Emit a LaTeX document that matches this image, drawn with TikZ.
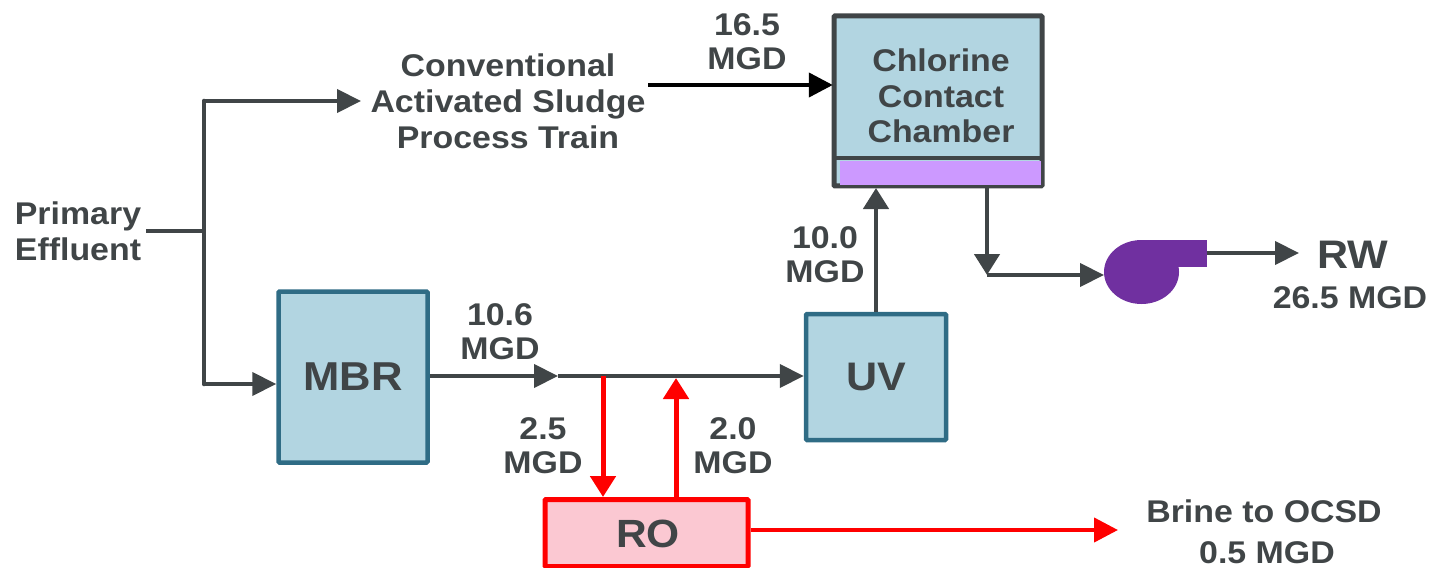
\documentclass[tikz,border=0pt]{standalone}
\usepackage{fontspec}
\setmainfont[FakeStretch=1.08]{Liberation Sans}
\usetikzlibrary{arrows.meta}
\definecolor{ink}{HTML}{404547}
\definecolor{boxblue}{HTML}{B2D5E1}
\definecolor{edgeblue}{HTML}{2F6C85}
\definecolor{violet}{HTML}{CC99FF}
\definecolor{pumpc}{HTML}{7030A0}
\definecolor{ropink}{HTML}{FBC8D2}
\tikzset{
  x=1bp,y=-1bp,
  txt/.style={font=\fontsize{#1}{#1}\selectfont\bfseries,text=ink,align=center,inner sep=0pt},
  txt/.default=31.5,
  hln/.style={line width=4.2bp,draw=ink},
  vln/.style={line width=4.6bp,draw=ink},
  harr/.style={hln,-{Triangle[length=24bp,width=23bp]}},
  varr/.style={vln,-{Triangle[length=21bp,width=25bp]}},
  redv/.style={line width=5bp,draw=red,-{Triangle[length=21bp,width=25bp]}},
  redh/.style={line width=4.2bp,draw=red,-{Triangle[length=24bp,width=24bp]}},
  blackarr/.style={line width=4.2bp,draw=black,-{Triangle[length=24bp,width=24bp]}},
  bluebox/.style={draw=edgeblue,fill=boxblue,line width=4.5bp,rounded corners=1bp},
}
\begin{document}
\begin{tikzpicture}
\useasboundingbox (0,0) rectangle (1432,568);
% boxes
\draw[draw=ink,fill=boxblue,line width=5bp,rounded corners=1bp] (834,16) rectangle (1042,186);
\node[draw=none,fill=violet,minimum width=201bp,minimum height=24bp,inner sep=0pt] (bar) at (940,173) {};
\draw[ink,line width=4bp] (834,158) -- (1042,158);
\node[inner sep=0pt,minimum width=210bp,minimum height=172bp] (ccc) at (938,101) {};
\node[txt,anchor=center] (ccctext) at (941,96) {Chlorine\\[4bp]Contact\\[4bp]Chamber};
\node[bluebox,minimum width=149bp,minimum height=171bp,inner sep=0pt,txt=40.5] (mbr) at (353,377) {MBR};
\node[bluebox,minimum width=140bp,minimum height=126bp,inner sep=0pt,txt=40] (uv) at (876,377) {UV};
\node[draw=red,fill=ropink,line width=5bp,rounded corners=1bp,minimum width=203bp,minimum height=67bp,inner sep=0pt] (ro) at (646.5,533) {};
\node[txt=39.5] (rotext) at (648,534) {RO};
% labels
\node[txt] (pe) at (78,231) {Primary\\[4.5bp]Effluent};
\node[txt] (cas) at (508,101) {Conventional\\[4.5bp]Activated Sludge\\[4.5bp]Process Train};
\node[txt] (f165) at (747,42) {16.5\\[3bp]MGD};
\node[txt] (f100) at (825,255) {10.0\\[3bp]MGD};
\node[txt] (f106) at (500,332) {10.6\\[3bp]MGD};
\node[txt] (f25) at (543,446) {2.5\\[3bp]MGD};
\node[txt] (f20) at (733,446) {2.0\\[3bp]MGD};
\node[txt=40] (rw) at (1353,255) {RW};
\node[txt] (rwf) at (1350,298) {26.5 MGD};
\node[txt] (brine) at (1264,511) {Brine to OCSD};
\node[txt] (brinef) at (1267,553) {0.5 MGD};
% pump
\fill[pumpc] (1141.5,272) ellipse[x radius=37.5bp,y radius=32bp];
\fill[pumpc] (1141.5,240) rectangle (1207,267);
\coordinate (pumpin) at (1104,275);
\coordinate (pumpout) at (1207,253);
\coordinate (rwend) at (1299,253);
% connectors
\coordinate (pj) at (204,231);
\coordinate (ptop) at (204,101);
\coordinate (pbot) at (204,384);
\coordinate (pstart) at (146,231);
\draw[hln] (pstart) -- (pj);
\draw[vln,line cap=round] (pbot) -- (ptop);
\draw[harr] (ptop) -- (361,101);
\draw[harr] (pbot) -- (mbr.west |- pbot);
\coordinate (casout) at (648,85);
\draw[blackarr] (casout) -- (ccc.west |- casout);
\coordinate (j1) at (558,376);
\coordinate (j2) at (694,376);
\draw[harr] (mbr.east |- j1) -- (j1);
\draw[hln] (j1) -- (j2);
\draw[harr] (j2) -- (uv.west |- j2);
\coordinate (ccin) at (876,188);
\draw[varr] (uv.north -| ccin) -- (ccin);
\coordinate (ccout) at (987,188);
\coordinate (elbow) at (987,275);
\draw[varr] (ccout) -- (elbow);
\draw[harr] (elbow) -- (pumpin);
\draw[harr] (pumpout) -- (rwend);
\coordinate (rd) at (603,376);
\coordinate (ru) at (676,378);
\draw[redv] (rd) -- (rd |- ro.north);
\draw[redv] (ru |- ro.north) -- (ru);
\coordinate (bo) at (1118,530);
\draw[redh] (ro.east |- bo) -- (bo);
\end{tikzpicture}
\end{document}
